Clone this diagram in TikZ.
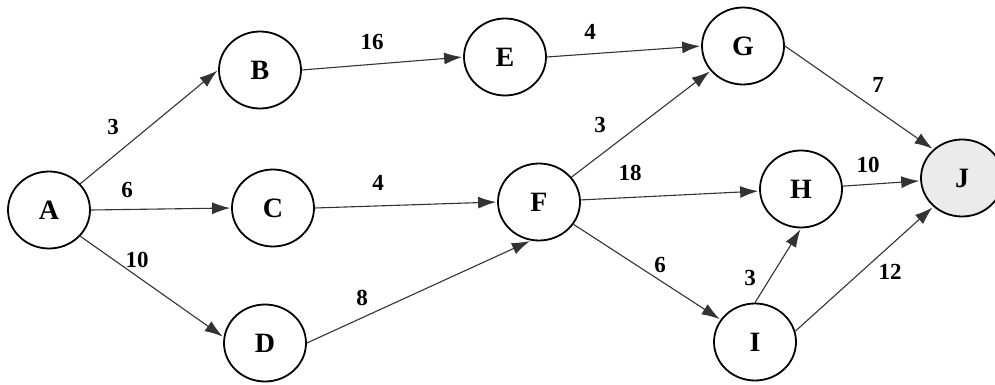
\documentclass[tikz,border=0pt]{standalone}
\usepackage{fontspec}
\setmainfont{Liberation Serif}
\usetikzlibrary{arrows.meta,shapes.geometric}
\begin{document}
\begin{tikzpicture}[x=1pt,y=-1pt,
  event/.style={draw=black,line width=1.8pt,ellipse,minimum width=82pt,minimum height=77pt,inner sep=0pt,
    font=\fontsize{28}{30}\selectfont\bfseries},
  act/.style={draw=black!80,line width=1.1pt,-{Latex[length=18pt,width=12pt]},shorten >=1pt},
  wt/.style={font=\fontsize{23}{25}\selectfont\bfseries,inner sep=0pt}]
\useasboundingbox (0,0) rectangle (995,385);

\node[event] (A) at (49,210) {A};
\node[event] (B) at (260,70) {B};
\node[event] (C) at (273,208) {C};
\node[event] (D) at (265,343) {D};
\node[event] (E) at (505,57) {E};
\node[event] (F) at (539,202) {F};
\node[event] (G) at (743,46) {G};
\node[event] (H) at (801,189) {H};
\node[event] (I) at (755,342) {I};
\node[event,fill=black!8] (J) at (962,178) {J};

\draw[act] (A.40) -- (B.west);
\draw[act] (A.east) -- (C.west);
\draw[act] (A.-40) -- (D.172);
\draw[act] (B.east) -- (E.west);
\draw[act] (C.east) -- (F.west);
\draw[act] (D.east) -- (F.258);
\draw[act] (E.east) -- (G.west);
\draw[act] (F) -- (G);
\draw[act] (F) -- (H);
\draw[act] (F) -- (I);
\draw[act] (G.east) -- (J.135);
\draw[act] (H) -- (J);
\draw[act] (I.north) -- (H.south);
\draw[act] (I.15) -- (J.225);

\node[wt] (w1) at (113,127) {3};
\node[wt] (w2) at (127,190) {6};
\node[wt] (w3) at (137,260) {10};
\node[wt] (w4) at (372,42) {16};
\node[wt] (w5) at (590,32) {4};
\node[wt] (w6) at (378,183) {4};
\node[wt] (w7) at (362,298) {8};
\node[wt] (w8) at (600,125) {3};
\node[wt] (w9) at (630,173) {18};
\node[wt] (w10) at (660,265) {6};
\node[wt] (w11) at (878,85) {7};
\node[wt] (w12) at (868,165) {10};
\node[wt] (w13) at (750,278) {3};
\node[wt] (w14) at (890,272) {12};
\end{tikzpicture}
\end{document}
